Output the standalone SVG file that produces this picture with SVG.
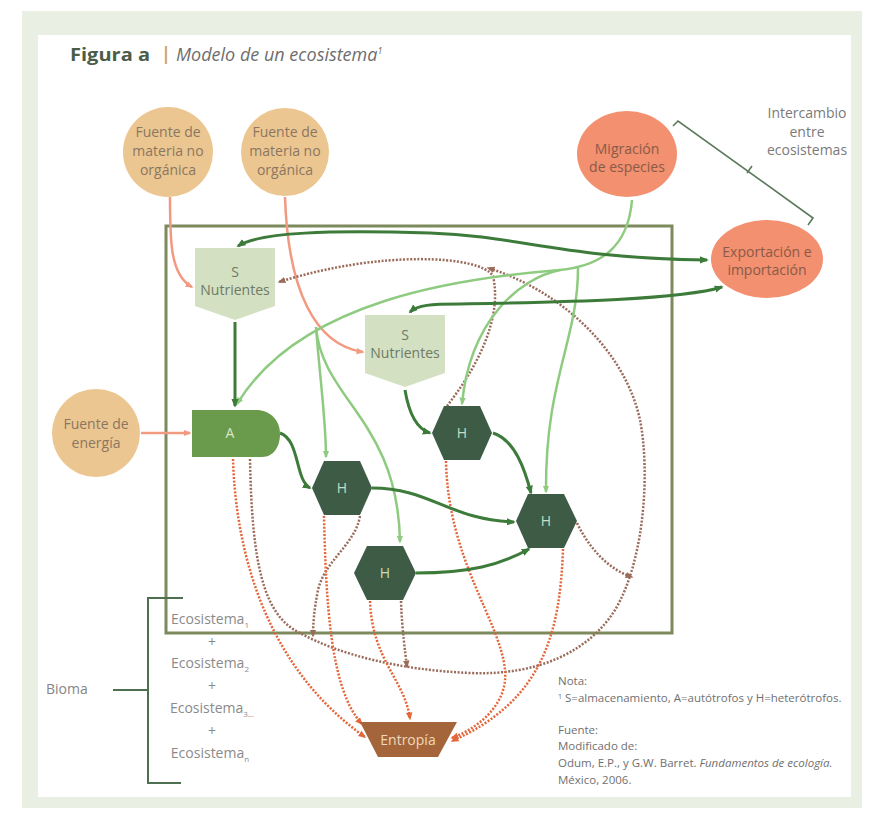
<svg xmlns="http://www.w3.org/2000/svg" width="872" height="814" viewBox="0 0 872 814">
<defs>
<style>
.t{font-family:"Open Sans","Liberation Sans",sans-serif;font-size:14px;text-anchor:middle}
.circ{fill:#ecc690}
.ct{fill:#8a7662}
.sal{fill:#f2906f}
.st{fill:#8a5a48}
.snode{fill:#d4e0c2}
.stx{fill:#6e7a66}
.hex{fill:#3e5b45}
.htx{fill:#c9dcc4}
.dg{fill:none;stroke:#3d7b3b;stroke-width:3}
.lg{fill:none;stroke:#8ecb80;stroke-width:2.5}
.pk{fill:none;stroke:#f29a80;stroke-width:2.5}
.or{fill:none;stroke:#e4663a;stroke-width:2.5;stroke-dasharray:2 1.6}
.br{fill:none;stroke:#9a6a5a;stroke-width:2.5;stroke-dasharray:2 1.6}
.note{font-family:"Open Sans","Liberation Sans",sans-serif;font-size:11.5px;fill:#707070}
.eco{font-family:"Open Sans","Liberation Sans",sans-serif;font-size:14px;fill:#8a8a8a;text-anchor:middle}
</style>
<marker id="mdg" viewBox="0 0 10 10" refX="8" refY="5" markerWidth="9" markerHeight="9" markerUnits="userSpaceOnUse" orient="auto"><path d="M0,1 L10,5 L0,9 z" fill="#3d7b3b"/></marker>
<marker id="mdgs" viewBox="0 0 10 10" refX="8" refY="5" markerWidth="9" markerHeight="9" markerUnits="userSpaceOnUse" orient="auto-start-reverse"><path d="M0,1 L10,5 L0,9 z" fill="#3d7b3b"/></marker>
<marker id="mlg" viewBox="0 0 10 10" refX="8" refY="5" markerWidth="8" markerHeight="8" markerUnits="userSpaceOnUse" orient="auto"><path d="M0,1 L10,5 L0,9 z" fill="#8ecb80"/></marker>
<marker id="mpk" viewBox="0 0 10 10" refX="8" refY="5" markerWidth="8" markerHeight="8" markerUnits="userSpaceOnUse" orient="auto"><path d="M0,1 L10,5 L0,9 z" fill="#f29a80"/></marker>
<marker id="mor" viewBox="0 0 10 10" refX="8" refY="5" markerWidth="8" markerHeight="8" markerUnits="userSpaceOnUse" orient="auto"><path d="M0,1 L10,5 L0,9 z" fill="#e4663a"/></marker>
<marker id="mbr" viewBox="0 0 10 10" refX="8" refY="5" markerWidth="8" markerHeight="8" markerUnits="userSpaceOnUse" orient="auto"><path d="M0,1 L10,5 L0,9 z" fill="#9a6a5a"/></marker>
</defs>

<rect x="0" y="0" width="872" height="814" fill="#ffffff"/>
<rect x="22" y="11" width="840" height="797" fill="#e9f0e3"/>
<rect x="38" y="35" width="813" height="762" fill="#ffffff"/>

<g id="title">
<text x="70" y="61" font-family="'Open Sans','Liberation Sans',sans-serif" font-size="18" font-weight="bold" fill="#4b5c49" textLength="80" lengthAdjust="spacingAndGlyphs">Figura a</text>
<text x="161" y="60" font-family="'Open Sans','Liberation Sans',sans-serif" font-size="18" font-weight="bold" fill="#d3a273">|</text>
<text x="176" y="61" font-family="'Open Sans','Liberation Sans',sans-serif" font-size="18" font-style="italic" fill="#6e6e6e">Modelo de un ecosistema<tspan font-size="9" dy="-7">1</tspan></text>
</g>

<g id="ecosistema-box">
<rect x="166" y="226" width="506" height="407" fill="none" stroke="#7d8a5c" stroke-width="3"/>
</g>

<g id="connectors">
<!-- salmon -->
<path class="pk" d="M170,197 C170,240 170,275 192,287" marker-end="url(#mpk)"/>
<path class="pk" d="M285,197 C288,290 315,345 363,352" marker-end="url(#mpk)"/>
<path class="pk" d="M141,433 L190,433" marker-end="url(#mpk)"/>
<!-- dotted brown -->
<path class="br" d="M447,406 C475,370 503,320 493,276 C480,255 380,250 279,282" marker-end="url(#mbr)"/>
<path class="br" d="M250,459 C252,560 262,615 300,633 C340,655 400,670 470,673 C540,676 590,650 615,610 C645,560 650,470 640,420 C625,350 560,290 488,268" marker-end="url(#mbr)"/>
<path class="br" d="M577,523 C590,550 610,570 632,577" marker-end="url(#mbr)"/>
<path class="br" d="M401,601 C402,630 405,650 407,667" marker-end="url(#mbr)"/>
<path class="br" d="M360,516 C355,545 325,560 318,590 C314,610 313,625 313,636" marker-end="url(#mbr)"/>
<!-- dotted orange -->
<path class="or" d="M233,459 C236,560 270,670 365,737" marker-end="url(#mor)"/>
<path class="or" d="M324,516 C326,600 330,690 362,724" marker-end="url(#mor)"/>
<path class="or" d="M370,601 C372,660 405,680 410,719" marker-end="url(#mor)"/>
<path class="or" d="M446,461 C448,560 500,620 505,670 C508,700 485,725 452,738" marker-end="url(#mor)"/>
<path class="or" d="M563,549 C560,630 545,700 452,741" marker-end="url(#mor)"/>
<!-- light green -->
<path class="lg" d="M632,200 C628,248 600,266 560,270 C460,278 300,300 237,404" marker-end="url(#mlg)"/>
<path class="lg" d="M560,270 C520,278 470,320 462,404" marker-end="url(#mlg)"/>
<path class="lg" d="M578,268 C578,340 545,380 546,492" marker-end="url(#mlg)"/>
<path class="lg" d="M316,327 C320,380 326,420 326,457" marker-end="url(#mlg)"/>
<path class="lg" d="M316,327 C322,400 398,420 400,542" marker-end="url(#mlg)"/>
<!-- dark green -->
<path class="dg" d="M238,246 C260,232 330,230 430,233 C520,236 560,258 707,260" marker-start="url(#mdgs)" marker-end="url(#mdg)"/>
<path class="dg" d="M410,312 C418,305 430,304 460,304 C560,302 680,300 722,287" marker-start="url(#mdgs)" marker-end="url(#mdg)"/>
<path class="dg" d="M235,322 L235,406" marker-end="url(#mdg)"/>
<path class="dg" d="M405,390 C410,420 420,430 430,433" marker-end="url(#mdg)"/>
<path class="dg" d="M280,433 C300,440 295,480 310,488" marker-end="url(#mdg)"/>
<path class="dg" d="M493,433 C515,440 525,470 531,493" marker-end="url(#mdg)"/>
<path class="dg" d="M372,488 C430,488 450,520 514,522" marker-end="url(#mdg)"/>
<path class="dg" d="M416,573 C470,573 500,565 529,549" marker-end="url(#mdg)"/>
<!-- brackets -->
<path d="M673,126 L678,121 L813,218 L808,225 M752,166 L747,173" fill="none" stroke="#5b7a5a" stroke-width="1.6"/>
<path d="M183,598 H148 V783 H181 M113,690 H148" fill="none" stroke="#4f7050" stroke-width="2"/>
</g>

<g id="fuente-materia-1">
<circle class="circ" cx="168" cy="152" r="45"/>
<text class="t ct" x="168" y="137">Fuente de</text>
<text class="t ct" x="168" y="156">materia no</text>
<text class="t ct" x="168" y="175">orgánica</text>
</g>
<g id="fuente-materia-2">
<circle class="circ" cx="285" cy="152" r="44"/>
<text class="t ct" x="285" y="137">Fuente de</text>
<text class="t ct" x="285" y="156">materia no</text>
<text class="t ct" x="285" y="175">orgánica</text>
</g>
<g id="fuente-energia">
<circle class="circ" cx="96" cy="433" r="44"/>
<text class="t ct" x="96" y="429">Fuente de</text>
<text class="t ct" x="96" y="448">energía</text>
</g>
<g id="migracion">
<ellipse class="sal" cx="627" cy="154" rx="50" ry="43"/>
<text class="t st" x="627" y="154">Migración</text>
<text class="t st" x="627" y="172">de especies</text>
</g>
<g id="exportacion">
<ellipse class="sal" cx="767" cy="259" rx="56" ry="39"/>
<text class="t st" x="767" y="257">Exportación e</text>
<text class="t st" x="767" y="275">importación</text>
</g>
<g id="intercambio">
<text class="t" x="807" y="118" fill="#7a7a7a">Intercambio</text>
<text class="t" x="807" y="137" fill="#7a7a7a">entre</text>
<text class="t" x="807" y="155" fill="#7a7a7a">ecosistemas</text>
</g>

<g id="s1">
<path class="snode" d="M195,248 H275 V306 L235,320 L195,306 Z"/>
<text class="t stx" x="235" y="277">S</text>
<text class="t stx" x="235" y="295">Nutrientes</text>
</g>
<g id="s2">
<path class="snode" d="M365,315 H445 V373 L405,387 L365,373 Z"/>
<text class="t stx" x="405" y="340">S</text>
<text class="t stx" x="405" y="358">Nutrientes</text>
</g>
<g id="a">
<path d="M192,410 H256 C270,410 280,420 280,434 C280,446 274,457 262,457 H192 Z" fill="#6a9a4c"/>
<text class="t" x="230" y="438" fill="#d8e8c4">A</text>
</g>
<g id="h1">
<path class="hex" d="M324,461 H360 L372,488 L360,515 H324 L312,488 Z"/>
<text class="t htx" x="342" y="493">H</text>
</g>
<g id="h2">
<path class="hex" d="M444,406 H480 L492,433 L480,460 H444 L432,433 Z"/>
<text class="t htx" x="462" y="438">H</text>
</g>
<g id="h3">
<path class="hex" d="M528,494 H564 L577,521 L564,548 H528 L516,521 Z"/>
<text class="t htx" x="546" y="526">H</text>
</g>
<g id="h4">
<path class="hex" d="M367,546 H403 L416,573 L403,600 H367 L354,573 Z"/>
<text class="t htx" x="385" y="578">H</text>
</g>
<g id="entropia">
<path d="M360,722 H457 L438,757 H378 Z" fill="#a5653a"/>
<text class="t" x="408" y="745" fill="#f0d9bc">Entropía</text>
</g>

<g id="bioma">
<text x="46" y="694" font-family="'Open Sans','Liberation Sans',sans-serif" font-size="14" fill="#858585">Bioma</text>
<text class="eco" x="210" y="624">Ecosistema<tspan font-size="8" dy="4">1</tspan></text>
<text class="eco" x="212" y="647">+</text>
<text class="eco" x="210" y="668">Ecosistema<tspan font-size="8" dy="4">2</tspan></text>
<text class="eco" x="212" y="691">+</text>
<text class="eco" x="212" y="713">Ecosistema<tspan font-size="8" dy="4">3…</tspan></text>
<text class="eco" x="212" y="736">+</text>
<text class="eco" x="210" y="758">Ecosistema<tspan font-size="8" dy="4">n</tspan></text>
</g>

<g id="nota">
<text class="note" x="558" y="685">Nota:</text>
<text class="note" x="558" y="702"><tspan font-size="7" dy="-3">1</tspan><tspan dy="3"> S=almacenamiento, A=autótrofos y H=heterótrofos.</tspan></text>
<text class="note" x="558" y="734">Fuente:</text>
<text class="note" x="558" y="750">Modificado de:</text>
<text class="note" x="558" y="767">Odum, E.P., y G.W. Barret. <tspan font-style="italic">Fundamentos de ecología.</tspan></text>
<text class="note" x="558" y="784">México, 2006.</text>
</g>
</svg>
